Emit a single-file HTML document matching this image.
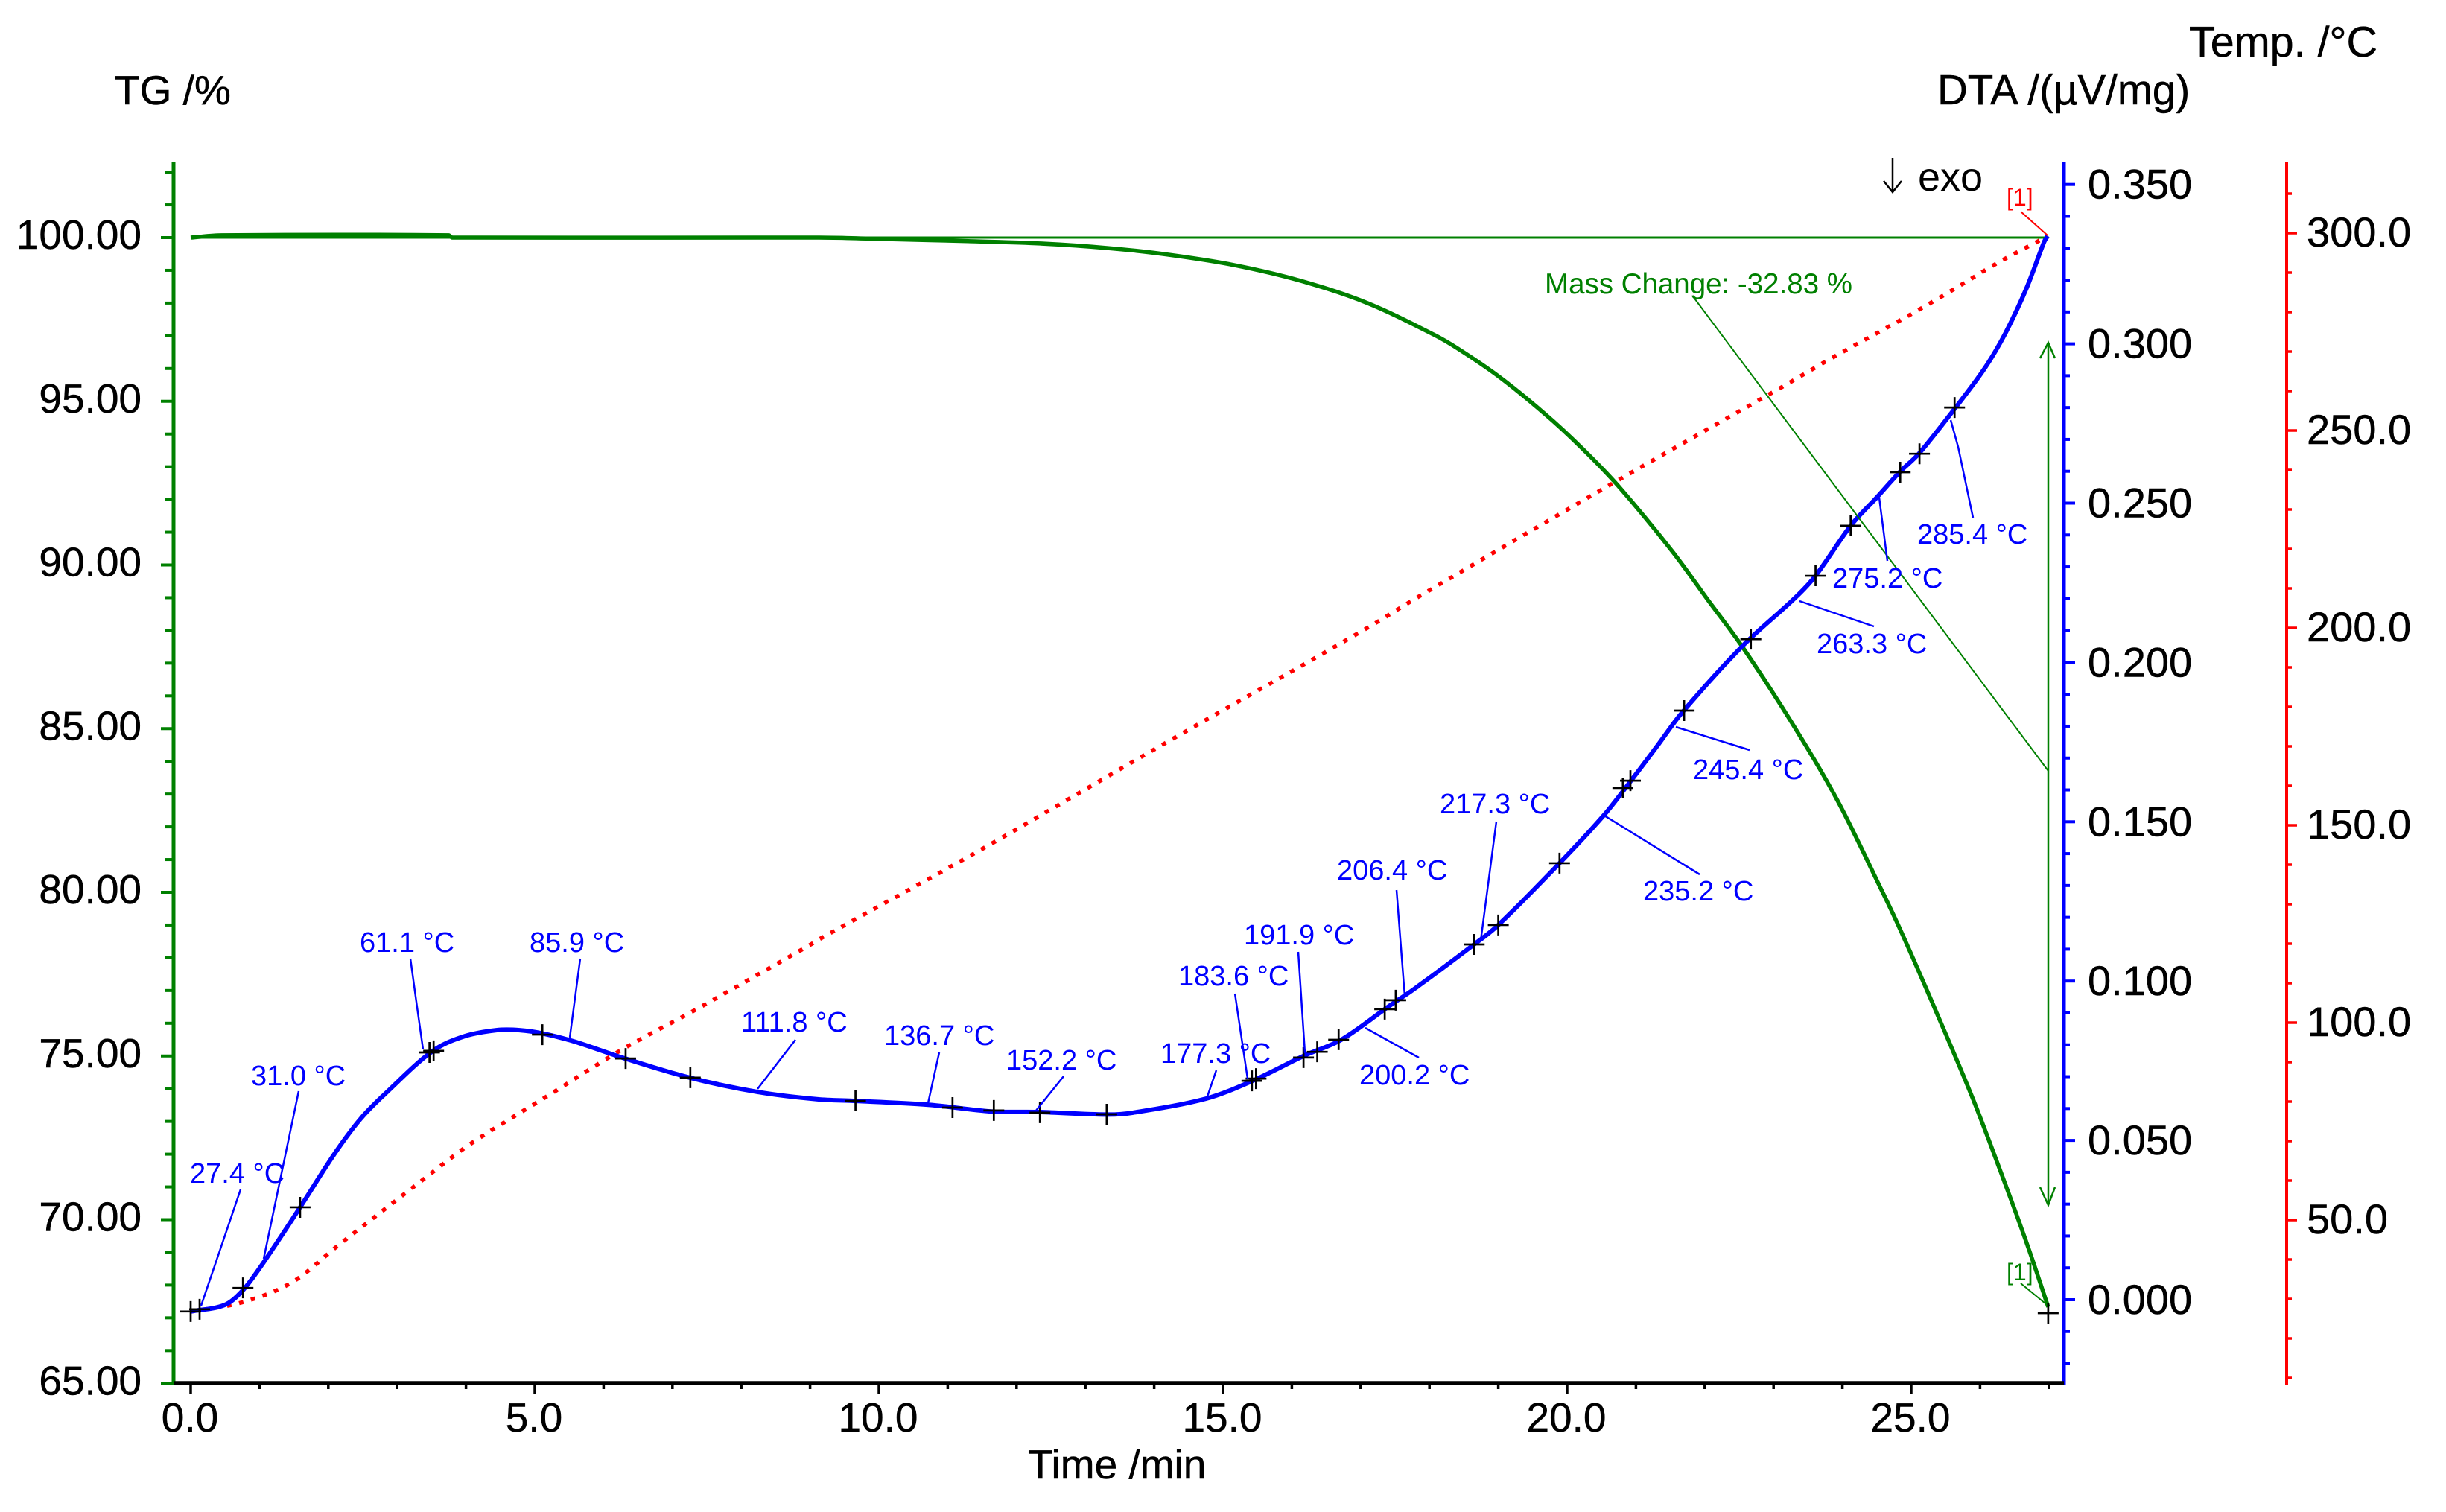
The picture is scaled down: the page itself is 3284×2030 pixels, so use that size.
<!DOCTYPE html>
<html lang="en">
<head>
<meta charset="utf-8">
<title>TG / DTA thermal analysis chart</title>
<style>
html,body{margin:0;padding:0;background:#fff;}
svg{display:block;font-family:"Liberation Sans",sans-serif;}
.tick{font-size:55px;fill:#000;stroke:#000;stroke-width:0.5px;}
.title{font-size:56.5px;fill:#000;stroke:#000;stroke-width:0.5px;}
.peak{font-size:38px;fill:#0000ff;}
.lead{stroke:#0000ff;stroke-width:2.5;fill:none;}
</style>
</head>
<body>
<svg id="chart" xmlns="http://www.w3.org/2000/svg" width="3284" height="2030" viewBox="0 0 3284 2030">
  <rect width="3284" height="2030" fill="#ffffff"/>

  <text class="title" x="154" y="140" style="font-size:55px">TG /%</text>
  <text class="title" x="2601" y="140">DTA /(µV/mg)</text>
  <text class="title" x="2939" y="76" style="font-size:57.5px">Temp. /°C</text>
  <text class="title" x="1380" y="1985" style="font-size:55px">Time /min</text>

  <g id="axes"></g>
  <g id="series"></g>

  <g>
    <path d="M2541 212V258M2529 243L2541 258L2553 243" fill="none" stroke="#000" stroke-width="2.5"/>
    <text x="2575" y="256" style="font-size:54px" fill="#000">exo</text>
  </g>

  <g stroke="#008000" fill="none">
    <line x1="2750" y1="460" x2="2750" y2="1618" stroke-width="2.5"/>
    <path d="M2739 481L2750 460L2759 481" stroke-width="2.5"/>
    <path d="M2739 1594L2750 1618L2759 1594" stroke-width="2.5"/>
    <line x1="2273" y1="398" x2="2750" y2="1035" stroke-width="2"/>
    <line x1="2713" y1="1723" x2="2746" y2="1750" stroke-width="2"/>
  </g>
  <text x="2074" y="394" style="font-size:38.5px" fill="#008000">Mass Change: -32.83 %</text>
  <text x="2694" y="1719" style="font-size:32px" fill="#008000">[1]</text>
  <text x="2694" y="276" style="font-size:32px" fill="#ff0000">[1]</text>
  <line x1="2713" y1="284" x2="2749" y2="316" stroke="#ff0000" stroke-width="2"/>

  <g>
    <text class="peak" x="255" y="1588">27.4 °C</text>
    <path class="lead" d="M323 1597L270 1753"/>
    <text class="peak" x="337" y="1457">31.0 °C</text>
    <path class="lead" d="M401 1465L354 1690"/>
    <text class="peak" x="483" y="1278">61.1 °C</text>
    <path class="lead" d="M551 1287L558 1338L568 1409"/>
    <text class="peak" x="711" y="1278">85.9 °C</text>
    <path class="lead" d="M779 1287L765 1393"/>
    <text class="peak" x="995" y="1385">111.8 °C</text>
    <path class="lead" d="M1068 1396L1017 1462"/>
    <text class="peak" x="1187" y="1403">136.7 °C</text>
    <path class="lead" d="M1261 1413L1246 1481"/>
    <text class="peak" x="1351" y="1436">152.2 °C</text>
    <path class="lead" d="M1428 1445L1391 1491"/>
    <text class="peak" x="1558" y="1427">177.3 °C</text>
    <path class="lead" d="M1633 1437L1620 1475"/>
    <text class="peak" x="1582" y="1323">183.6 °C</text>
    <path class="lead" d="M1658 1334L1675 1448"/>
    <text class="peak" x="1670" y="1268">191.9 °C</text>
    <path class="lead" d="M1743 1278L1752 1414"/>
    <text class="peak" x="1825" y="1456">200.2 °C</text>
    <path class="lead" d="M1905 1420L1833 1380"/>
    <text class="peak" x="1795" y="1181">206.4 °C</text>
    <path class="lead" d="M1875 1195L1886 1337"/>
    <text class="peak" x="1933" y="1092">217.3 °C</text>
    <path class="lead" d="M2009 1103L1988 1263"/>
    <text class="peak" x="2206" y="1209">235.2 °C</text>
    <path class="lead" d="M2154 1095L2282 1174"/>
    <text class="peak" x="2273" y="1046">245.4 °C</text>
    <path class="lead" d="M2349 1007L2250 976"/>
    <text class="peak" x="2439" y="877">263.3 °C</text>
    <path class="lead" d="M2516 841L2416 807"/>
    <text class="peak" x="2460" y="789">275.2 °C</text>
    <path class="lead" d="M2534 753L2523 668"/>
    <text class="peak" x="2574" y="730">285.4 °C</text>
    <path class="lead" d="M2649 695L2629 600L2619 564"/>
  </g>
</svg>

<script>
const timeTickLabels = ["0.0","5.0","10.0","15.0","20.0","25.0"];
const tgTickLabels = ["65.00","70.00","75.00","80.00","85.00","90.00","95.00","100.00"];
const dtaTickLabels = ["0.000","0.050","0.100","0.150","0.200","0.250","0.300","0.350"];
const tempTickLabels = ["50.0","100.0","150.0","200.0","250.0","300.0"];

const tgTimes = [0,0.45,3.75,3.8,9.13,10.2,11.3,12.34,13.33,14.2,15.16,16.13,17.1,18.06,18.42,19.0,19.68,20.21,20.74,21.52,22.05,22.55,23.25,23.93,24.56,24.85,25.32,25.9,26.38,26.72,26.99];
const tgValues = [100,100.07,100.07,100,100,99.95,99.89,99.82,99.68,99.48,99.16,98.68,98.0,97.04,96.6,95.77,94.61,93.58,92.42,90.44,88.92,87.49,85.23,82.8,80.11,78.82,76.56,73.67,71.01,69.03,67.33];
const tgReference = [0,27];

const dtaTimes = [0,0.5,0.76,1.06,1.59,2.09,2.47,2.81,3.5,3.95,4.44,4.78,5.13,5.58,6.27,7.25,8.24,9.11,9.66,10.72,11.63,12.33,13.31,13.69,14.75,15.43,16.19,16.72,17.41,17.79,18.66,19.0,19.89,20.54,20.89,21.32,21.66,22.55,23.3,23.61,24.12,24.5,24.83,25.11,25.63,26.07,26.37,26.68,26.93,26.98];
const dtaValues = [-0.0037,-0.0016,0.003,0.0117,0.029,0.0458,0.0568,0.0643,0.0778,0.0825,0.0846,0.0846,0.0835,0.081,0.076,0.0697,0.0652,0.0629,0.0624,0.0612,0.0591,0.0589,0.0581,0.0587,0.0631,0.0687,0.0767,0.0816,0.0921,0.0977,0.1117,0.1176,0.137,0.1522,0.1618,0.1741,0.184,0.2052,0.22,0.2272,0.2429,0.2518,0.2597,0.2655,0.2796,0.2924,0.3034,0.3177,0.3319,0.3338];

const tempTimes = [0,0.76,1.48,2.16,3.3,4.06,5.21,6.27,7.33,8.99,9.13,11.5,14.0,17.0,17.9,20.69,23.06,23.84,24.95,25.62,26.26,26.86,26.98];
const tempValues = [26.8,29.2,34.3,43.8,59.2,69.2,81.7,93.2,103.2,119.6,121.1,144,169.2,199,208.5,236.9,260.4,268.3,279,285.8,292.5,298.1,299.2];

const markerTimes = [0,0.13,0.76,1.59,3.47,3.53,5.11,6.32,7.26,9.66,11.07,11.67,12.34,13.31,15.42,15.48,16.17,16.37,16.68,17.35,17.51,18.65,19.0,19.89,20.81,20.92,21.7,22.67,23.61,24.12,24.84,25.12,25.63,26.99];
const markerValues = [-0.0037,-0.003,0.0037,0.029,0.0776,0.0781,0.0832,0.0757,0.0697,0.0624,0.0603,0.0594,0.0587,0.0582,0.0687,0.0694,0.076,0.0778,0.0816,0.0912,0.094,0.1115,0.1176,0.137,0.1606,0.1629,0.1849,0.2073,0.2272,0.2429,0.2597,0.2655,0.28,-0.0042];

const xScale = t => 256 + t * 92.4;
const tgScale = v => 319 + (100 - v) * 43.95;
const dtaScale = v => 1745 - v * 4278;
const tempScale = v => 313 + (300 - v) * 5.3;

const NS = "http://www.w3.org/2000/svg";
const axes = document.getElementById("axes");
const series = document.getElementById("series");

function mk(parent, tag, attrs, text) {
  const el = document.createElementNS(NS, tag);
  for (const k in attrs) el.setAttribute(k, attrs[k]);
  if (text !== undefined) el.textContent = text;
  parent.appendChild(el);
  return el;
}
/* Smooth cubic Hermite curve through the data, parameterised by x */
function smoothPath(xs, ys, fx, fy) {
  const px = xs.map(fx), py = ys.map(fy), n = px.length;
  const slope = i => {
    const a = Math.max(0, i - 1), b = Math.min(n - 1, i + 1);
    return (py[b] - py[a]) / (px[b] - px[a]);
  };
  let d = "M" + px[0].toFixed(1) + " " + py[0].toFixed(1);
  for (let i = 0; i < n - 1; i++) {
    const h = (px[i + 1] - px[i]) / 3;
    d += "C" + (px[i] + h).toFixed(1) + " " + (py[i] + slope(i) * h).toFixed(1) + " " +
         (px[i + 1] - h).toFixed(1) + " " + (py[i + 1] - slope(i + 1) * h).toFixed(1) + " " +
         px[i + 1].toFixed(1) + " " + py[i + 1].toFixed(1);
  }
  return d;
}

/* axis lines */
let el;
el = mk(axes, "line", {x1:233, y1:217, x2:233, y2:1860, stroke:"#008000", "stroke-width":5});


el = mk(axes, "line", {x1:2771, y1:217, x2:2771, y2:1860, stroke:"#0000ff", "stroke-width":5});


el = mk(axes, "line", {x1:3070, y1:217, x2:3070, y2:1860, stroke:"#ff0000", "stroke-width":4});


el = mk(axes, "line", {x1:233, y1:1857, x2:2771, y2:1857, stroke:"#000000", "stroke-width":5.5});



/* time ticks */
for (let t = 0; t <= 27; t++) {
  const major = t % 5 === 0;
  el = mk(axes, "line", {x1:xScale(t), y1:1857, x2:xScale(t), y2:major ? 1871 : 1865, stroke:"#000", "stroke-width":3.5});
  
  
}
timeTickLabels.forEach(label => {
  el = mk(axes, "text", {x:xScale(parseFloat(label)) - 1, y:1922, "text-anchor":"middle", class:"tick"}, label);
  
  
});

/* TG ticks */
for (let v = 65; v <= 102; v++) {
  const major = v % 5 === 0;
  el = mk(axes, "line", {x1:233, y1:tgScale(v), x2:major ? 216 : 222, y2:tgScale(v), stroke:"#008000", "stroke-width":4});
  
  
}
tgTickLabels.forEach(label => {
  el = mk(axes, "text", {x:190, y:tgScale(parseFloat(label)) + 15, "text-anchor":"end", class:"tick"}, label);
  
  
});

/* DTA ticks */
for (let i = -2; i <= 35; i++) {
  const major = i % 5 === 0;
  const v = i / 100;
  el = mk(axes, "line", {x1:2771, y1:dtaScale(v), x2:major ? 2786 : 2779, y2:dtaScale(v), stroke:"#0000ff", "stroke-width":4});
  
  
}
dtaTickLabels.forEach(label => {
  el = mk(axes, "text", {x:2803, y:dtaScale(parseFloat(label)) + 19, class:"tick", style:"font-size:56px"}, label);
  
  
});

/* Temperature ticks */
for (let v = 10; v <= 310; v += 10) {
  const major = v % 50 === 0;
  el = mk(axes, "line", {x1:3070, y1:tempScale(v), x2:major ? 3084 : 3077, y2:tempScale(v), stroke:"#ff0000", "stroke-width":3.5});
  
  
}
tempTickLabels.forEach(label => {
  el = mk(axes, "text", {x:3097, y:tempScale(parseFloat(label)) + 18, class:"tick", style:"font-size:56px"}, label);
  
  
});

/* series */
el = mk(series, "line", {x1:xScale(tgReference[0]), y1:tgScale(100), x2:xScale(tgReference[1]), y2:tgScale(100), stroke:"#008000", "stroke-width":3});



el = mk(series, "path", {d:smoothPath(tempTimes, tempValues, xScale, tempScale), fill:"none", stroke:"#ff0000", "stroke-width":5.5, "stroke-dasharray":"6 10.5"});



el = mk(series, "path", {d:smoothPath(tgTimes, tgValues, xScale, tgScale), fill:"none", stroke:"#008000", "stroke-width":5.5, "stroke-linejoin":"round"});



el = mk(series, "path", {d:smoothPath(dtaTimes, dtaValues, xScale, dtaScale), fill:"none", stroke:"#0000ff", "stroke-width":6, "stroke-linejoin":"round"});



markerTimes.forEach((t, i) => {
  const x = xScale(t), y = dtaScale(markerValues[i]);
  el = mk(series, "path", {d:`M${x - 14} ${y}H${x + 14}M${x} ${y - 14}V${y + 14}`, fill:"none", stroke:"#000", "stroke-width":2.7});
  
  
});
</script>
</body>
</html>
